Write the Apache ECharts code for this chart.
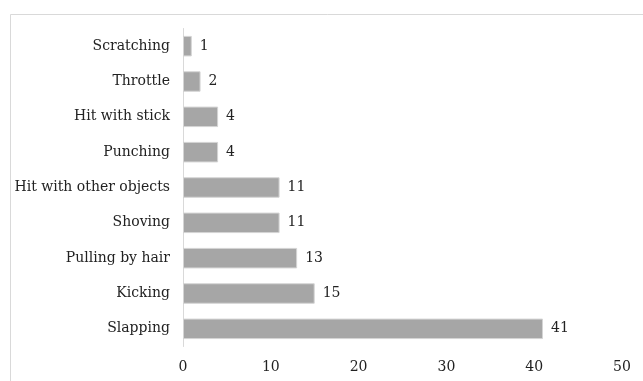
<!DOCTYPE html>
<html>
<head>
<meta charset="utf-8">
<script src="https://cdn.jsdelivr.net/npm/echarts@6/dist/echarts.min.js"></script>
<style>
  html, body { margin: 0; padding: 0; background: #fff; }
  #chart { width: 643px; height: 381px; }
</style>
</head>
<body>
<div id="chart"></div>
<script>
// Types of physical violence reported (count of cases)
const categories = [
  'Slapping', 'Kicking', 'Pulling by hair', 'Shoving',
  'Hit with other objects', 'Punching', 'Hit with stick', 'Throttle', 'Scratching'
];
const counts = [41, 15, 13, 11, 11, 4, 4, 2, 1];
const axisTicks = [0, 10, 20, 30, 40, 50];

const fontFamily = '"DejaVu Serif", serif';
const textColor = '#222222';

const chart = echarts.init(document.getElementById('chart'));
chart.setOption({
  animation: false,
  backgroundColor: '#ffffff',
  graphic: [{
    type: 'rect',
    left: 8, top: 12,
    shape: { width: 700, height: 420 },
    style: { fill: 'none', stroke: '#d9d9d9', lineWidth: 1 },
    silent: true
  }],
  grid: { left: 183, right: 21, top: 28.5, bottom: 34.5, containLabel: false },
  xAxis: {
    type: 'value',
    min: axisTicks[0],
    max: axisTicks[axisTicks.length - 1],
    interval: axisTicks[1] - axisTicks[0],
    axisLine: { show: false },
    axisTick: { show: false },
    splitLine: { show: false },
    axisLabel: { color: textColor, fontFamily, fontSize: 14, margin: 14 }
  },
  yAxis: {
    type: 'category',
    data: categories,
    axisLine: { show: true, lineStyle: { color: '#d9d9d9', width: 1 } },
    axisTick: { show: false },
    axisLabel: { color: textColor, fontFamily, fontSize: 14, margin: 13 }
  },
  series: [{
    type: 'bar',
    data: counts,
    barWidth: '58%',
    itemStyle: { color: '#a6a6a6', borderColor: '#d4d4d4', borderWidth: 1 },
    label: {
      show: true,
      position: 'right',
      distance: 8,
      color: textColor,
      fontFamily,
      fontSize: 14
    }
  }]
});
</script>
</body>
</html>
